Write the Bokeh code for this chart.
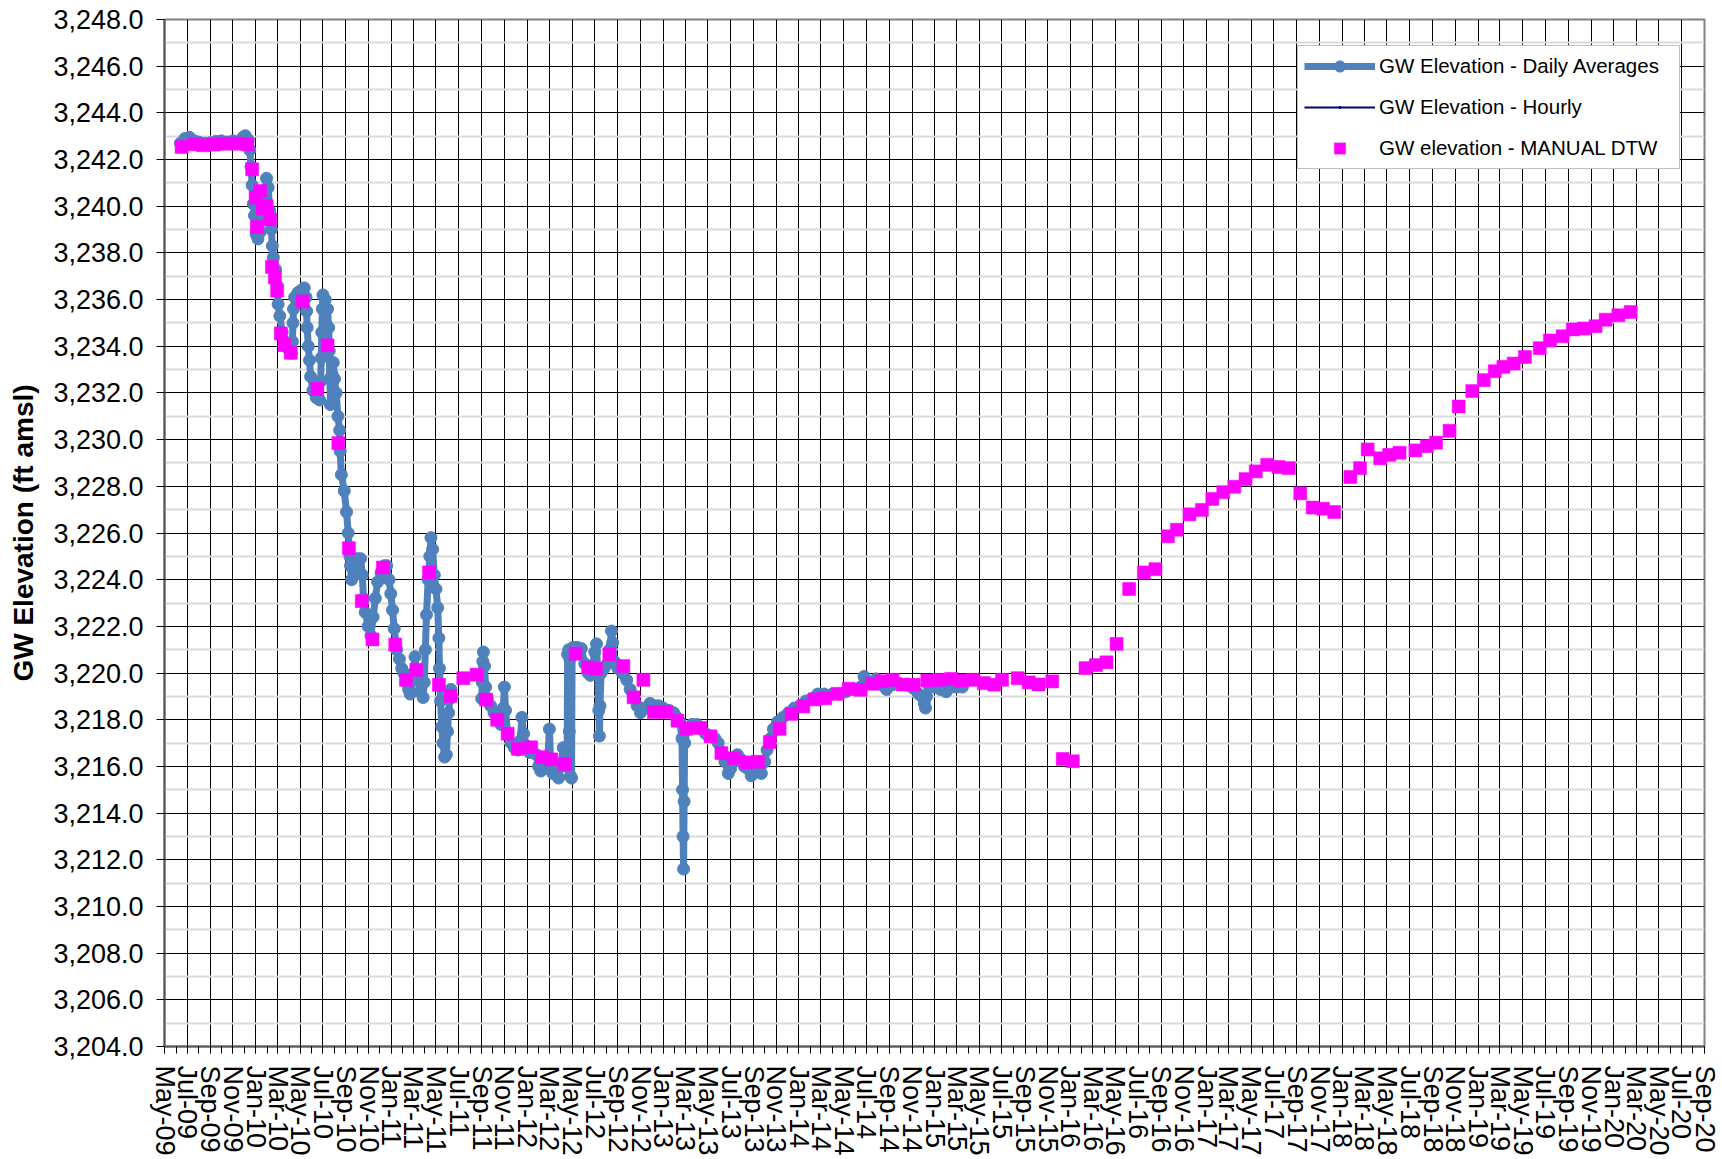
import numpy as np
import pandas as pd
from bokeh.plotting import figure
from bokeh.models import (ColumnDataSource, FixedTicker, DatetimeTickFormatter,
                          NumeralTickFormatter, Legend, LegendItem, Range1d)
from bokeh.embed import file_html
from bokeh.resources import INLINE

# ---------------- data ----------------
# x values are given as months elapsed since 1 May 2009
daily_months = [
    1.4, 1.8, 2.2, 2.6, 3.0, 3.5, 4.0, 4.5, 5.0, 5.5, 6.0, 6.5, 6.9, 7.1, 7.35, 7.5, 7.6, 7.7, 7.8, 7.9,
    8.05, 8.2, 8.4, 8.6, 8.8, 8.95, 9.1, 9.25, 9.4, 9.5, 9.6, 9.8, 9.95, 10.05, 10.2, 10.4, 10.6, 10.9, 11.2,
    11.3, 11.35, 11.4, 11.5, 11.8, 12.1, 12.35, 12.5, 12.55, 12.6, 12.7, 12.8, 12.9, 13.1, 13.4, 13.7,
    13.8, 13.85, 13.9, 13.95, 14.0, 14.2, 14.4, 14.5, 14.55, 14.6, 14.65, 14.8, 14.9, 15.0, 15.15, 15.3,
    15.45, 15.5, 15.6, 15.85, 16.05, 16.2, 16.35, 16.4, 16.5, 16.7, 17.0, 17.3, 17.45, 17.55, 17.7, 17.95,
    18.2, 18.4, 18.6, 18.8, 19.1, 19.4, 19.6, 19.8, 19.95, 20.1, 20.25, 20.45, 20.7, 20.9, 21.1, 21.3,
    21.55, 21.7, 22.0, 22.15, 22.3, 22.6, 22.85, 22.95, 23.05, 23.15, 23.3, 23.45, 23.55, 23.7, 23.85,
    24.0, 24.15, 24.25, 24.3, 24.4, 24.5, 24.6, 24.75, 24.9, 25.0, 25.1, 25.2, 25.3, 25.4,
    26.5,
    28.0, 28.05, 28.1, 28.15, 28.25, 28.35, 28.5, 28.8, 29.1, 29.4, 29.7, 29.9, 30.0, 30.1, 30.3, 30.6,
    30.9, 31.2, 31.4, 31.55, 31.7, 31.9, 32.2, 32.5, 32.8, 33.0, 33.2, 33.5, 33.8, 34.0, 34.1, 34.3,
    34.6, 34.8, 35.0, 35.2, 35.4, 35.55, 35.6, 35.65, 35.7, 35.75, 35.8, 35.85, 35.9, 35.95, 36.0,
    36.1, 36.4, 36.8, 37.1, 37.4, 37.6, 37.8, 38.0, 38.15, 38.25, 38.35, 38.4, 38.45, 38.55, 38.8,
    39.1, 39.3, 39.45, 39.55, 39.7, 40.0, 40.4, 40.8, 41.1, 41.4, 41.7, 42.0, 42.4, 42.85, 43.2, 43.6,
    44.0, 44.5, 44.9, 45.2, 45.5, 45.7, 45.75, 45.8, 45.85, 45.9, 45.95, 46.2, 46.6, 47.0, 47.4, 47.8,
    48.2, 48.6, 48.9, 49.2, 49.5, 49.8, 50.0, 50.3, 50.6, 50.9, 51.2, 51.5, 51.8, 52.1, 52.4, 52.7,
    53.0, 53.2, 53.5, 53.75, 54.1, 54.6, 55.1, 55.6, 56.1, 56.6, 57.1, 57.7, 58.3, 59.0, 59.6, 60.2,
    60.7, 61.1, 61.5, 61.8, 62.1, 62.5, 62.85, 63.3, 63.75, 64.3, 64.9, 65.5, 66.1, 66.6, 66.9, 67.1,
    67.2, 67.3, 67.55, 68.0, 68.5, 69.0, 69.5, 70.0, 70.5,
]
daily_values = [
    3242.70, 3242.90, 3242.95, 3242.80, 3242.75, 3242.70, 3242.72, 3242.78, 3242.80, 3242.75, 3242.80,
    3242.76, 3242.95, 3243.02, 3242.85, 3242.40, 3241.70, 3240.90, 3240.10, 3239.60,
    3238.80, 3238.60, 3238.90, 3239.60, 3240.50, 3241.20, 3240.80, 3239.80, 3239.00, 3238.30, 3237.80,
    3237.30, 3236.60, 3235.80, 3235.30, 3234.60, 3234.20, 3233.90, 3233.70,
    3234.20, 3235.00, 3235.60, 3236.10, 3236.30, 3236.40, 3236.50, 3236.10, 3235.50, 3234.80, 3234.00,
    3233.40, 3232.70, 3232.10, 3231.80, 3231.70,
    3232.50, 3233.50, 3234.60, 3235.60, 3236.20, 3236.00, 3235.60, 3234.80, 3233.80, 3232.60, 3231.50,
    3232.80, 3233.30, 3232.60, 3232.00, 3231.00,
    3230.40, 3229.50, 3228.50, 3227.80, 3226.90, 3226.00, 3225.00, 3224.60, 3224.00, 3224.40, 3224.90,
    3224.90, 3224.20, 3223.20, 3222.60, 3222.00,
    3221.60, 3222.40, 3223.20, 3223.90, 3224.30, 3224.60, 3224.60, 3224.00, 3223.40, 3222.70, 3221.90,
    3221.00, 3220.60, 3220.20, 3220.00, 3219.60,
    3219.30, 3219.10, 3220.00, 3220.70, 3219.80, 3219.20, 3218.95, 3219.60, 3221.00, 3222.50, 3224.00,
    3225.00, 3225.80, 3225.30, 3224.20,
    3223.60, 3222.80, 3221.50, 3220.20, 3218.80, 3217.70, 3217.00, 3216.40, 3216.50, 3217.50, 3218.30,
    3218.90, 3219.30, 3219.00,
    np.nan,
    3218.90, 3219.60, 3220.50, 3220.90, 3220.30, 3219.40, 3218.90, 3218.60, 3218.30, 3218.00, 3217.80,
    3218.50, 3219.40, 3218.40, 3217.40, 3217.00,
    3216.80, 3216.70, 3217.10, 3218.10, 3217.40, 3216.90, 3216.60, 3216.60, 3216.50, 3216.00, 3215.80,
    3215.90, 3216.00, 3217.60, 3216.30, 3215.70,
    3215.80, 3215.50, 3216.00, 3216.80, 3216.20, 3216.00, 3220.80, 3216.50, 3221.00, 3217.50, 3220.60,
    3215.60, 3221.00, 3215.50, 3220.80,
    3221.10, 3221.10, 3221.05, 3220.40, 3220.00, 3219.90, 3220.30, 3220.90, 3221.25, 3220.00, 3218.40,
    3217.30, 3218.60, 3220.00, 3220.20,
    3220.40, 3221.00, 3221.80, 3221.30, 3220.50, 3220.20, 3220.00, 3219.70, 3219.30, 3219.00, 3218.60,
    3218.30, 3218.50, 3218.70, 3218.60, 3218.60,
    3218.50, 3218.40, 3218.30, 3218.10, 3217.90, 3217.20, 3215.00, 3213.00, 3211.60, 3214.50, 3217.00,
    3217.60, 3217.80, 3217.80, 3217.60, 3217.40,
    3217.30, 3217.20, 3217.00, 3216.60, 3216.20, 3215.70, 3215.90, 3216.20, 3216.50, 3216.30, 3216.00,
    3215.90, 3215.60, 3215.90, 3216.10, 3215.70,
    3216.20, 3216.70, 3217.20, 3217.60, 3217.90, 3218.10, 3218.30, 3218.50, 3218.60, 3218.80, 3218.90,
    3219.10, 3219.10, 3219.10, 3219.10, 3219.20,
    3219.30, 3219.30, 3219.40, 3219.85, 3219.60, 3219.60, 3219.75, 3219.50, 3219.30, 3219.50, 3219.55,
    3219.50, 3219.35, 3219.10, 3219.00, 3218.70,
    3218.50, 3219.00, 3219.40, 3219.40, 3219.30, 3219.20, 3219.40, 3219.40, 3219.40,
]

# the hourly series is not visible in the chart (only in its legend): no plotted values
hourly_months = [70.5]
hourly_values = [np.nan]

manual_months = [
    1.5, 2.55, 3.4, 4.3, 5.3, 6.4, 7.3, 7.7, 8.0, 8.1, 8.4, 8.6, 8.96, 9.3, 9.46, 9.75, 9.96, 10.28,
    10.6, 11.15, 12.2, 13.5, 14.4, 15.34, 16.26, 17.4, 18.34, 19.26, 20.34, 21.3, 22.26, 23.37, 24.25,
    25.26, 26.4, 27.55, 28.4, 29.37, 30.29, 31.2, 32.35, 33.3, 34.17, 35.35, 36.3, 37.4, 38.1, 39.26,
    40.5, 41.4, 42.26, 43.2, 44.26, 45.26, 46.14, 47.33, 48.23, 49.18, 50.29, 51.38, 52.4, 53.44, 54.3,
    55.36, 56.38, 57.4, 58.38, 59.47, 60.44, 61.5, 62.5, 63.4, 64.3, 65.2, 66.15, 67.36, 68.38, 69.48,
    70.36, 71.45, 72.4, 73.3, 74.0, 75.36, 76.33, 77.2, 78.4, 79.33, 80.2, 81.33, 82.27, 83.2, 84.1,
    85.2, 86.5, 87.5, 88.6, 89.4, 90.5, 91.6, 92.5, 93.5, 94.5, 95.5, 96.4, 97.4, 98.4, 99.3, 100.3,
    101.4, 102.3, 103.3, 104.7, 105.6, 106.3, 107.4, 108.2, 109.1, 110.5, 111.5, 112.3, 113.5, 114.3,
    115.5, 116.5, 117.5, 118.3, 119.2, 120.2, 121.5, 122.4, 123.5, 124.4, 125.4, 126.4, 127.3, 128.4,
    129.5,
]
manual_values = [
    3242.54, 3242.65, 3242.61, 3242.64, 3242.68, 3242.68, 3242.65, 3241.58, 3240.37, 3239.11, 3240.65,
    3239.90, 3240.00, 3239.43, 3237.40, 3236.95, 3236.38, 3234.55,
    3234.05, 3233.72, 3235.92, 3232.18, 3234.04, 3229.85, 3225.35, 3223.08, 3221.44, 3224.52, 3221.22,
    3219.71, 3220.14, 3224.31, 3219.50,
    3219.02, 3219.78, 3219.93, 3218.86, 3218.00, 3217.40, 3216.75, 3216.82, 3216.40, 3216.30, 3216.10,
    3220.83, 3220.24, 3220.19, 3220.80,
    3220.30, 3218.96, 3219.71, 3218.33, 3218.33, 3217.96, 3217.61, 3217.65, 3217.29, 3216.57, 3216.35,
    3216.17, 3216.20, 3217.04, 3217.61,
    3218.25, 3218.57, 3218.87, 3218.92, 3219.11, 3219.33, 3219.28, 3219.54, 3219.65, 3219.71, 3219.51,
    3219.50, 3219.68, 3219.71, 3219.75,
    3219.68, 3219.71, 3219.57, 3219.50, 3219.71, 3219.78, 3219.60, 3219.51, 3219.64, 3216.32, 3216.22,
    3220.21, 3220.34, 3220.46, 3221.25,
    3223.60, 3224.31, 3224.45, 3225.86, 3226.14, 3226.80, 3226.99, 3227.46, 3227.75, 3227.98, 3228.31,
    3228.64, 3228.92, 3228.83, 3228.78, 3227.70,
    3227.09, 3227.04, 3226.90, 3228.40, 3228.78, 3229.58, 3229.20, 3229.35, 3229.44, 3229.54, 3229.72,
    3229.87, 3230.38, 3231.42,
    3232.08, 3232.55, 3232.93, 3233.12, 3233.26, 3233.54, 3233.92, 3234.25, 3234.43, 3234.72, 3234.76,
    3234.86, 3235.14, 3235.33,
    3235.47,
]

y_ticks = list(range(3204, 3249, 2))
y_minor = list(range(3205, 3248, 2))
x_start, x_end = "2009-05-01", "2020-09-01"

# ---------------- helpers ----------------
START = pd.Timestamp(x_start)


def month_to_date(m):
    k = int(np.floor(m))
    frac = m - k
    s = START + pd.DateOffset(months=k)
    e = START + pd.DateOffset(months=k + 1)
    return s + (e - s) * frac


def to_ms(ts):
    return pd.Timestamp(ts).value / 1e6


daily_src = ColumnDataSource(data=dict(x=[month_to_date(m) for m in daily_months], y=daily_values))
hourly_src = ColumnDataSource(data=dict(x=[month_to_date(m) for m in hourly_months], y=hourly_values))
manual_src = ColumnDataSource(data=dict(x=[month_to_date(m) for m in manual_months], y=manual_values))

major_x = [to_ms(t) for t in pd.date_range(x_start, x_end, freq="2MS")]
minor_x = [to_ms(t) for t in pd.date_range(x_start, x_end, freq="MS")]

FONT = "Liberation Sans"
BLUE = "#4F81BD"
MAGENTA = "#FF00FF"
NAVY = "#000080"

p = figure(x_axis_type="datetime", output_backend="svg", toolbar_location=None,
           frame_width=1540, frame_height=1027,
           min_border_left=164, min_border_right=16, min_border_top=19, min_border_bottom=112,
           x_range=Range1d(pd.Timestamp(x_start), pd.Timestamp(x_end)),
           y_range=Range1d(3204, 3248))
p.background_fill_color = "white"
p.border_fill_color = "white"
p.outline_line_color = "#808080"
p.outline_line_width = 2

# grids
p.xgrid.grid_line_color = "black"
p.xgrid.grid_line_width = 1
p.ygrid.grid_line_color = "black"
p.ygrid.grid_line_width = 1
p.ygrid.minor_grid_line_color = "#d9d9d9"
p.ygrid.minor_grid_line_width = 2

# x axis
p.xaxis.ticker = FixedTicker(ticks=major_x, minor_ticks=minor_x)
fmt = "%b-%y"
p.xaxis.formatter = DatetimeTickFormatter(microseconds=fmt, milliseconds=fmt, seconds=fmt, minsec=fmt,
                                          minutes=fmt, hourmin=fmt, hours=fmt, days=fmt,
                                          months=fmt, years=fmt)
p.xaxis.major_label_orientation = -np.pi / 2
p.xaxis.major_label_standoff = 12
p.xaxis.major_tick_out = 7
p.xaxis.major_tick_in = 0
p.xaxis.minor_tick_out = 7
p.xaxis.minor_tick_in = 0
p.xaxis.major_tick_line_color = "black"
p.xaxis.minor_tick_line_color = "black"
p.xaxis.major_label_text_font_size = "27px"

# y axis
p.yaxis.ticker = FixedTicker(ticks=y_ticks, minor_ticks=y_minor)
p.yaxis.formatter = NumeralTickFormatter(format="0,0.0")
p.yaxis.major_tick_out = 8
p.yaxis.major_tick_in = 0
p.yaxis.minor_tick_line_color = None
p.yaxis.major_tick_line_color = "black"
p.yaxis.major_label_standoff = 13
p.yaxis.major_label_text_font_size = "27px"
p.yaxis.axis_label = "GW Elevation (ft amsl)"
p.yaxis.axis_label_text_font = FONT
p.yaxis.axis_label_text_font_size = "28px"
p.yaxis.axis_label_text_font_style = "bold"
p.yaxis.axis_label_text_color = "black"
p.yaxis.axis_label_standoff = 11

for ax in (p.xaxis, p.yaxis):
    ax.major_label_text_font = FONT
    ax.major_label_text_color = "black"
    ax.axis_line_color = "#595959"
    ax.axis_line_width = 2

# series
dl = p.line("x", "y", source=daily_src, line_color=BLUE, line_width=7, line_join="round")
ds = p.scatter("x", "y", source=daily_src, marker="circle", size=12,
               fill_color=BLUE, line_color=BLUE)
hl = p.line("x", "y", source=hourly_src, line_color=NAVY, line_width=2)
hs = p.scatter("x", "y", source=hourly_src, marker="dot", size=11, line_color=NAVY, fill_color=NAVY)
ms = p.scatter("x", "y", source=manual_src, marker="square", size=13,
               fill_color=MAGENTA, line_color=MAGENTA, line_width=0.5)

legend = Legend(items=[
    LegendItem(label="GW Elevation - Daily Averages", renderers=[dl, ds]),
    LegendItem(label="GW Elevation - Hourly", renderers=[hl, hs]),
    LegendItem(label="GW elevation - MANUAL DTW", renderers=[ms]),
], location=(1133, 877))
legend.label_text_font = FONT
legend.label_text_font_size = "20.5px"
legend.label_text_color = "black"
legend.glyph_width = 71
legend.glyph_height = 28
legend.label_height = 28
legend.label_width = 294
legend.label_standoff = 4
legend.spacing = 13
legend.padding = 6
legend.margin = 0
legend.border_line_color = "#808080"
legend.border_line_width = 1.5
legend.background_fill_color = "white"
legend.background_fill_alpha = 1.0
p.add_layout(legend, "center")

open("out.html", "w").write(file_html(p, INLINE))
